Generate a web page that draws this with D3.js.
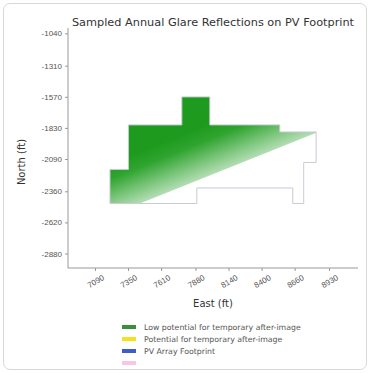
<!DOCTYPE html>
<html><head><meta charset="utf-8">
<script src="https://cdn.jsdelivr.net/npm/d3@7"></script>
<style>
html,body{margin:0;padding:0;background:#fff;}
#card{position:absolute;left:3px;top:3px;width:362px;height:365px;border:1px solid #d8d8d8;border-radius:7px;overflow:hidden;background:#fff;}
svg{position:absolute;left:-4px;top:-4px;font-family:"DejaVu Sans",sans-serif;}
</style></head>
<body><div id="card"></div>
<script>
// Tick labels
const xTicks = [7090, 7350, 7610, 7880, 8140, 8400, 8660, 8930];
const yTicks = [-1040, -1310, -1570, -1830, -2090, -2360, -2620, -2880];
// PV array footprint outline (east, north)
const footEast  = [7208, 7208, 7353, 7353, 7773, 7773, 7993, 7993, 8543, 8543, 8829, 8829, 8731, 8731, 8645, 8645, 7891, 7891];
const footNorth = [-2462, -2177, -2177, -1805, -1805, -1571, -1571, -1805, -1805, -1864, -1864, -2119, -2119, -2462, -2462, -2332, -2332, -2462];
// Glare reflection boundary (lower edge of sampled reflections)
const glareEdgeEast  = [7443, 8829];
const glareEdgeNorth = [-2462, -1872];
// Legend
const legendLabels = ["Low potential for temporary after-image", "Potential for temporary after-image", "PV Array Footprint", ""];
const legendColors = ["#3a8f3a", "#f5e21c", "#3a5fcd", "#f7c6e0"];

const W = 370, H = 373;
const svg = d3.select("#card").append("svg").attr("width", W).attr("height", H);
const x = d3.scaleLinear().domain([6878, 9158]).range([68, 358]);
const y = d3.scaleLinear().domain([-920, -3001]).range([19, 268]);

const defs = svg.append("defs");
const foot = footEast.map((e, i) => [x(e), y(footNorth[i])]);
defs.append("clipPath").attr("id", "fp").append("polygon").attr("points", foot.map(p => p.join(",")).join(" "));

// gradient perpendicular to the glare edge
const p0 = [x(glareEdgeEast[0]), y(glareEdgeNorth[0])], p1 = [x(glareEdgeEast[1]), y(glareEdgeNorth[1])];
const dx = p1[0] - p0[0], dy = p1[1] - p0[1];
const len = Math.hypot(dx, dy);
const nx = dy / len, ny = -dx / len; // normal pointing up-left
const mid = [(p0[0] + p1[0]) / 2, (p0[1] + p1[1]) / 2];
const grad = defs.append("linearGradient").attr("id", "gg").attr("gradientUnits", "userSpaceOnUse")
  .attr("x1", mid[0]).attr("y1", mid[1]).attr("x2", mid[0] + nx * 48).attr("y2", mid[1] + ny * 48);
grad.append("stop").attr("offset", 0).attr("stop-color", "#b4ddb4");
grad.append("stop").attr("offset", 0.3).attr("stop-color", "#7cc67c");
grad.append("stop").attr("offset", 0.7).attr("stop-color", "#2fa52f");
grad.append("stop").attr("offset", 1).attr("stop-color", "#1e9b1e");

// glare region: footprint above edge
const big = 2000;
const region = [
  [p0[0] - dx / len * big, p0[1] - dy / len * big],
  [p1[0] + dx / len * big, p1[1] + dy / len * big],
  [p1[0] + dx / len * big + nx * big, p1[1] + dy / len * big + ny * big],
  [p0[0] - dx / len * big + nx * big, p0[1] - dy / len * big + ny * big]
];
svg.append("g").attr("clip-path", "url(#fp)")
  .append("polygon").attr("points", region.map(p => p.join(",")).join(" "))
  .attr("fill", "url(#gg)");

// footprint outline
svg.append("polygon").attr("points", foot.map(p => p.join(",")).join(" "))
  .attr("fill", "none").attr("stroke", "#c9cbd6").attr("stroke-width", 1);

// axes
const fmt = d => String(d);
const ax = svg.append("g").attr("transform", "translate(0,268)")
  .call(d3.axisBottom(x).tickValues(xTicks).tickFormat(fmt).tickSize(3).tickPadding(3));
ax.select(".domain").attr("stroke", "#999").attr("d", "M68,0H358");
ax.selectAll(".tick line").attr("stroke", "#999");
ax.selectAll("text").attr("fill", "#555").attr("font-size", 8)
  .attr("text-anchor", "end").attr("dy", "0.6em").attr("transform", "translate(4,2) rotate(-30)");

const ay = svg.append("g").attr("transform", "translate(68,0)")
  .call(d3.axisLeft(y).tickValues(yTicks).tickFormat(fmt).tickSize(3).tickPadding(3));
ay.select(".domain").attr("stroke", "#999").attr("d", "M0,28V268");
ay.selectAll(".tick line").attr("stroke", "#999");
ay.selectAll("text").attr("fill", "#555").attr("font-size", 8);

svg.append("text").attr("x", 213).attr("y", 26).attr("text-anchor", "middle")
  .attr("font-size", 11.3).attr("fill", "#333").text("Sampled Annual Glare Reflections on PV Footprint");
svg.append("text").attr("transform", "translate(25,162) rotate(-90)").attr("text-anchor", "middle")
  .attr("font-size", 10).attr("fill", "#333").text("North (ft)");
svg.append("text").attr("x", 213).attr("y", 307).attr("text-anchor", "middle")
  .attr("font-size", 10).attr("fill", "#333").text("East (ft)");

const lg = svg.append("g");
legendLabels.forEach((t, i) => {
  const yy = 327 + i * 12;
  lg.append("rect").attr("x", 122).attr("y", yy - 2).attr("width", 14).attr("height", 4).attr("fill", legendColors[i]);
  lg.append("text").attr("x", 144).attr("y", yy + 2.8).attr("font-size", 7.8).attr("fill", "#555").text(t);
});
</script></body></html>
